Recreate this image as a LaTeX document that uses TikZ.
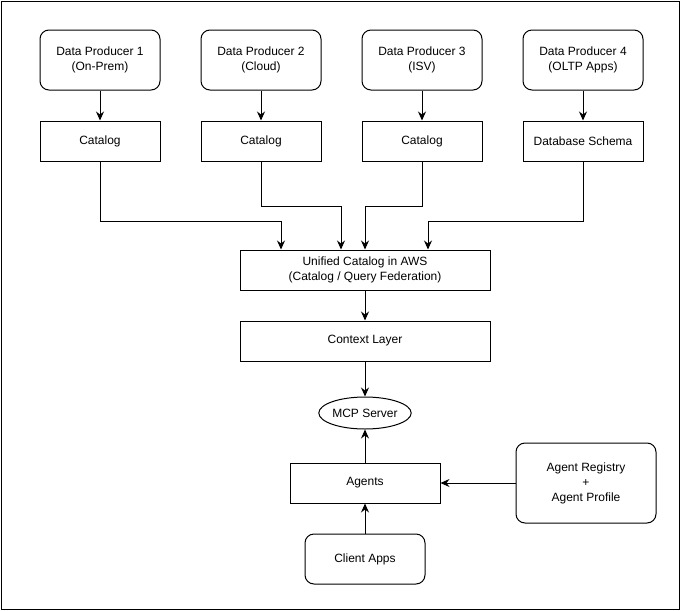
\documentclass[tikz,border=0pt]{standalone}
\usepackage{fontspec}
\setmainfont{Liberation Sans}
\usetikzlibrary{arrows.meta,positioning,shapes.geometric}

\begin{document}
\begin{tikzpicture}[
  x=1pt, y=-1pt,
  node distance=30pt and 40pt,
  box/.style={draw, line width=1pt, align=center, font=\fontsize{12}{15}\selectfont, inner sep=2pt},
  prod/.style={box, rounded corners=9pt, minimum width=120pt, minimum height=60pt},
  cat/.style={box, minimum width=120pt, minimum height=40pt},
  wide/.style={box, minimum width=250pt, minimum height=40pt},
  arr/.style={-{Stealth[length=9pt, width=8pt, inset=3pt]}, line width=1pt},
]
\useasboundingbox (0,0) rectangle (681,611);
\draw[line width=1pt] (1,1) rectangle (679,609);

% producers and their catalogs
\node[prod] (p1) at (100,60) {Data Producer 1\\(On-Prem)};
\node[prod, right=of p1] (p2) {Data Producer 2\\(Cloud)};
\node[prod, right=of p2] (p3) {Data Producer 3\\(ISV)};
\node[prod, right=of p3] (p4) {Data Producer 4\\(OLTP Apps)};
\node[cat, below=of p1] (c1) {Catalog};
\node[cat, below=of p2] (c2) {Catalog};
\node[cat, below=of p3] (c3) {Catalog};
\node[cat, below=of p4] (c4) {Database Schema};

% central stack
\node[wide] (uc) at (365,270) {Unified Catalog in AWS\\(Catalog / Query Federation)};
\node[wide, below=of uc] (cl) {Context Layer};
\node[box, ellipse, inner sep=0pt, minimum width=80pt, minimum height=32pt, below=35pt of cl] (mcp) {MCP Server};
\node[box, minimum width=150pt, minimum height=40pt, below=33pt of mcp] (ag) {Agents};
\node[prod, minimum height=50pt, below=of ag] (ca) {Client Apps};
\node[prod, minimum width=140pt, minimum height=80pt, right=75pt of ag] (ar) {Agent Registry\\+\\Agent Profile};

\draw[arr] (p1) -- (c1);
\draw[arr] (p2) -- (c2);
\draw[arr] (p3) -- (c3);
\draw[arr] (p4) -- (c4);
\draw[arr] (c1.south) -- ++(0,-60pt) -| ([xshift=-84pt]uc.north);
\draw[arr] (c2.south) -- ++(0,-45pt) -| ([xshift=-24pt]uc.north);
\draw[arr] (c3.south) -- ++(0,-45pt) -| (uc.north);
\draw[arr] (c4.south) -- ++(0,-60pt) -| ([xshift=63pt]uc.north);
\draw[arr] (uc) -- (cl);
\draw[arr] (cl) -- (mcp);
\draw[arr] (ag) -- (mcp);
\draw[arr] (ca) -- (ag);
\draw[arr] (ar) -- (ag);
\end{tikzpicture}
\end{document}
